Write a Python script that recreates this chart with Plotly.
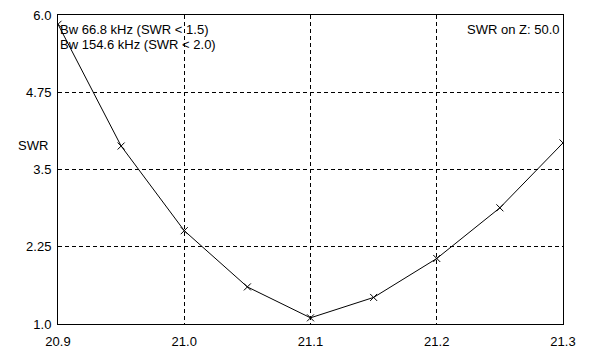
import plotly.graph_objects as go

freq = [20.9, 20.95, 21.0, 21.05, 21.1, 21.15, 21.2, 21.25, 21.3]
swr = [5.85, 3.88, 2.51, 1.60, 1.10, 1.43, 2.06, 2.88, 3.93]

x_ticks = [20.9, 21.0, 21.1, 21.2, 21.3]
x_ticktext = ["20.9", "21.0", "21.1", "21.2", "21.3"]
y_ticks = [1.0, 2.25, 3.5, 4.75, 6.0]
y_ticktext = ["1.0", "2.25", "3.5", "4.75", "6.0"]

W, H = 615, 357
L, R, T, B = 58, 563, 8, 331

def px(xp):
    return (xp - L) / (R - L)

def py(yp):
    return (B - yp) / (B - T)

FONT = dict(family="Liberation Sans, Arial, sans-serif", size=13, color="#000000")

fig = go.Figure()
fig.add_trace(go.Scatter(
    x=freq, y=swr, mode="lines+markers",
    line=dict(color="black", width=1),
    marker=dict(symbol="x-thin", size=7, line=dict(color="black", width=1), color="black"),
    cliponaxis=True, showlegend=False,
))

axis_common = dict(
    showline=True, linecolor="black", linewidth=1, mirror=True,
    showgrid=True, gridcolor="black", gridwidth=1, griddash="4px,3px",
    zeroline=False, ticks="", tickfont=FONT,
)

fig.update_xaxes(range=[20.9, 21.3], tickvals=x_ticks, ticktext=x_ticktext,
                 ticklabelstandoff=5, **axis_common)
fig.update_yaxes(range=[1.0, 6.0], tickvals=y_ticks, ticktext=y_ticktext,
                 ticklabelstandoff=3, **axis_common)

annotations = [
    dict(text="Bw 66.8 kHz (SWR < 1.5)", x=px(59), y=py(23), xanchor="left", yanchor="middle"),
    dict(text="Bw 154.6 kHz (SWR < 2.0)", x=px(59), y=py(39), xanchor="left", yanchor="middle"),
    dict(text="SWR on Z: 50.0", x=px(560), y=py(23), xanchor="right", yanchor="middle"),
    dict(text="SWR", x=px(17), y=py(144), xanchor="left", yanchor="middle"),
]
for a in annotations:
    a.update(xref="paper", yref="paper", showarrow=False, font=FONT, borderpad=0)

fig.update_layout(
    width=W, height=H,
    margin=dict(l=L, r=W - R, t=T, b=H - B, pad=0),
    paper_bgcolor="white", plot_bgcolor="white",
    annotations=annotations,
    font=FONT,
)

fig.write_html("out.html", config={"displayModeBar": False},
               post_script="document.body.style.margin='0';document.body.style.overflow='hidden';")
